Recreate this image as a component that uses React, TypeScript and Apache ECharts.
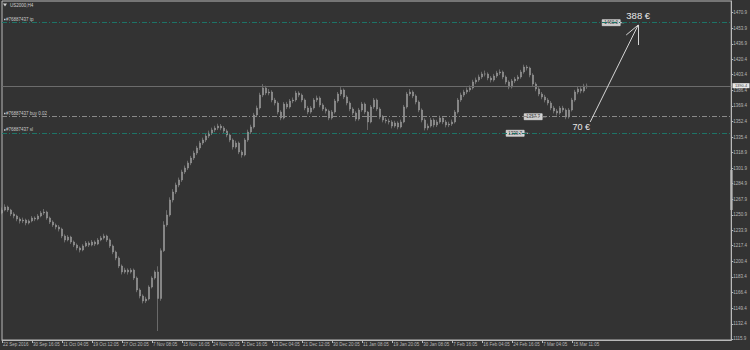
import React, { useEffect, useRef } from "react";
import * as echarts from "echarts";

const chartTitle = "US2000,H4";

const dateLabels = [
  "22 Sep 2016", "30 Sep 16:05", "11 Oct 04:05", "19 Oct 12:05", "27 Oct 20:05",
  "7 Nov 08:05", "15 Nov 16:05", "24 Nov 00:05", "2 Dec 16:05", "13 Dec 04:05",
  "21 Dec 12:05", "30 Dec 20:05", "11 Jan 08:05", "19 Jan 20:05", "30 Jan 08:05",
  "7 Feb 16:05", "16 Feb 04:05", "24 Feb 16:05", "7 Mar 04:05", "15 Mar 11:05",
];

const priceTicks = [
  1470.9, 1453.9, 1436.9, 1420.4, 1403.4, 1386.4, 1369.4, 1352.4, 1335.4, 1318.9, 1301.9,
  1284.9, 1267.9, 1250.9, 1233.9, 1217.4, 1200.4, 1183.4, 1166.4, 1149.4, 1132.4, 1115.9,
];

// [open, close, low, high]
const bars: number[][] = [
  [1253.0, 1256.2, 1251.5, 1259.0], [1256.2, 1259.5, 1254.8, 1262.4], [1259.5, 1256.2, 1254.1, 1261.0],
  [1256.2, 1251.9, 1249.6, 1257.5], [1251.9, 1249.7, 1247.2, 1253.8], [1249.7, 1246.4, 1244.0, 1251.1],
  [1246.4, 1244.3, 1241.5, 1248.2], [1244.3, 1245.3, 1242.0, 1247.9], [1245.3, 1242.1, 1239.6, 1246.8],
  [1242.1, 1244.3, 1240.5, 1246.0], [1244.3, 1247.5, 1242.8, 1249.6], [1247.5, 1246.4, 1244.1, 1249.3],
  [1246.4, 1249.7, 1245.0, 1251.8], [1249.7, 1253.0, 1248.3, 1255.2], [1253.0, 1254.0, 1250.9, 1257.3],
  [1254.0, 1247.5, 1245.6, 1255.4], [1247.5, 1243.2, 1241.0, 1249.1], [1243.2, 1239.9, 1237.8, 1245.0],
  [1239.9, 1237.7, 1235.2, 1241.6], [1237.7, 1235.5, 1232.9, 1239.8], [1235.5, 1227.9, 1225.6, 1237.0],
  [1227.9, 1223.6, 1221.0, 1229.7], [1223.6, 1226.8, 1222.1, 1228.9], [1226.8, 1221.4, 1219.3, 1228.2],
  [1221.4, 1218.1, 1215.9, 1223.0], [1218.1, 1214.9, 1212.4, 1219.8], [1214.9, 1212.7, 1210.1, 1216.6],
  [1212.7, 1217.1, 1211.3, 1219.0], [1217.1, 1220.3, 1215.8, 1222.5], [1220.3, 1218.1, 1216.0, 1222.2],
  [1218.1, 1221.4, 1216.7, 1223.6], [1221.4, 1219.2, 1217.0, 1223.1], [1219.2, 1223.6, 1218.0, 1225.7],
  [1223.6, 1225.8, 1222.2, 1228.0], [1225.8, 1227.9, 1224.1, 1230.4], [1227.9, 1223.6, 1221.5, 1229.3],
  [1223.6, 1217.1, 1215.0, 1225.2], [1217.1, 1210.5, 1208.2, 1218.7], [1210.5, 1204.0, 1201.6, 1212.0],
  [1204.0, 1195.3, 1193.0, 1205.8], [1195.3, 1188.8, 1186.1, 1197.0], [1188.8, 1190.9, 1186.9, 1193.4],
  [1190.9, 1188.8, 1186.0, 1192.7], [1188.8, 1190.9, 1187.1, 1193.0], [1190.9, 1182.2, 1180.0, 1192.5],
  [1182.2, 1169.2, 1166.8, 1183.9], [1169.2, 1162.7, 1160.1, 1171.0], [1162.7, 1157.2, 1154.6, 1164.5],
  [1157.2, 1159.4, 1155.0, 1161.8], [1159.4, 1172.4, 1157.8, 1174.3], [1172.4, 1182.2, 1170.9, 1184.1],
  [1182.2, 1188.8, 1180.5, 1190.6], [1188.8, 1160.0, 1124.6, 1195.0], [1160.0, 1212.0, 1157.5, 1214.5],
  [1212.0, 1240.0, 1210.5, 1244.0], [1240.0, 1250.8, 1238.0, 1256.0], [1250.8, 1267.1, 1249.0, 1270.0],
  [1267.1, 1275.8, 1264.5, 1278.9], [1275.8, 1283.4, 1273.6, 1286.0], [1283.4, 1288.9, 1281.0, 1291.5],
  [1288.9, 1297.6, 1286.8, 1300.0], [1297.6, 1301.9, 1295.4, 1304.6], [1301.9, 1307.4, 1299.8, 1309.8],
  [1307.4, 1312.8, 1305.0, 1315.1], [1312.8, 1318.2, 1310.6, 1320.7], [1318.2, 1323.7, 1316.0, 1326.0],
  [1323.7, 1329.1, 1321.4, 1331.5], [1329.1, 1332.4, 1327.0, 1334.9], [1332.4, 1336.7, 1330.1, 1339.0],
  [1336.7, 1340.0, 1334.5, 1342.6], [1340.0, 1343.3, 1337.8, 1345.8], [1343.3, 1345.4, 1341.0, 1347.9],
  [1345.4, 1347.6, 1343.2, 1350.1], [1347.6, 1345.4, 1343.0, 1349.8], [1345.4, 1342.2, 1339.9, 1347.5],
  [1342.2, 1337.8, 1335.4, 1344.0], [1337.8, 1332.4, 1330.0, 1339.6], [1332.4, 1324.8, 1322.0, 1334.1],
  [1324.8, 1329.1, 1323.0, 1331.6], [1329.1, 1319.3, 1317.0, 1330.8], [1319.3, 1316.1, 1313.2, 1321.4],
  [1316.1, 1332.4, 1314.6, 1334.5], [1332.4, 1341.1, 1330.3, 1343.6], [1341.1, 1346.5, 1338.9, 1349.0],
  [1346.5, 1359.6, 1344.8, 1361.9], [1359.6, 1367.2, 1357.3, 1369.8], [1367.2, 1381.3, 1365.5, 1383.8],
  [1381.3, 1389.0, 1379.0, 1393.2], [1389.0, 1383.5, 1381.2, 1391.4], [1383.5, 1384.6, 1381.0, 1387.9],
  [1384.6, 1375.9, 1373.4, 1386.5], [1375.9, 1372.6, 1370.0, 1378.2], [1372.6, 1362.8, 1360.3, 1374.4],
  [1362.8, 1356.3, 1353.9, 1364.7], [1356.3, 1371.5, 1354.8, 1373.6], [1371.5, 1368.3, 1366.0, 1373.9],
  [1368.3, 1374.8, 1366.5, 1377.0], [1374.8, 1375.9, 1372.4, 1378.6], [1375.9, 1383.5, 1374.0, 1385.9],
  [1383.5, 1381.3, 1378.9, 1385.4], [1381.3, 1375.9, 1373.5, 1383.0], [1375.9, 1367.2, 1364.8, 1377.6],
  [1367.2, 1362.8, 1360.4, 1369.5], [1362.8, 1367.2, 1361.0, 1369.3], [1367.2, 1375.9, 1365.4, 1378.0],
  [1375.9, 1378.1, 1373.6, 1380.7], [1378.1, 1370.5, 1368.0, 1379.9], [1370.5, 1366.1, 1363.8, 1372.4],
  [1366.1, 1363.9, 1361.2, 1368.0], [1363.9, 1356.3, 1353.9, 1365.5], [1356.3, 1362.8, 1354.6, 1365.0],
  [1362.8, 1374.8, 1361.0, 1377.1], [1374.8, 1382.4, 1372.9, 1384.6], [1382.4, 1386.8, 1380.2, 1389.9],
  [1386.8, 1379.2, 1376.9, 1388.4], [1379.2, 1372.6, 1370.1, 1381.0], [1372.6, 1366.1, 1363.7, 1374.5],
  [1366.1, 1361.8, 1359.4, 1368.0], [1361.8, 1355.2, 1352.8, 1363.6], [1355.2, 1365.0, 1353.4, 1367.3],
  [1365.0, 1371.5, 1363.0, 1373.8], [1371.5, 1362.8, 1360.5, 1373.2], [1362.8, 1352.0, 1343.3, 1364.0],
  [1352.0, 1368.3, 1350.5, 1370.4], [1368.3, 1375.9, 1366.2, 1378.1], [1375.9, 1366.1, 1363.8, 1377.5],
  [1366.1, 1357.4, 1355.0, 1368.0], [1357.4, 1354.1, 1351.6, 1359.6], [1354.1, 1353.1, 1350.5, 1356.4],
  [1353.1, 1352.0, 1349.3, 1355.6], [1352.0, 1347.6, 1345.0, 1354.0], [1347.6, 1350.9, 1345.8, 1353.3],
  [1350.9, 1346.5, 1344.0, 1352.7], [1346.5, 1352.0, 1345.0, 1354.5], [1352.0, 1368.3, 1350.6, 1370.5],
  [1368.3, 1382.4, 1366.5, 1384.7], [1382.4, 1384.6, 1380.2, 1387.8], [1384.6, 1380.3, 1377.9, 1386.4],
  [1380.3, 1373.7, 1371.2, 1382.0], [1373.7, 1365.0, 1362.6, 1375.5], [1365.0, 1354.1, 1351.6, 1366.8],
  [1354.1, 1345.4, 1342.8, 1356.0], [1345.4, 1347.6, 1343.0, 1350.2], [1347.6, 1354.1, 1345.9, 1356.5],
  [1354.1, 1348.7, 1346.2, 1356.0], [1348.7, 1352.0, 1346.5, 1354.4], [1352.0, 1356.3, 1350.1, 1358.8],
  [1356.3, 1352.0, 1349.6, 1358.0], [1352.0, 1348.7, 1346.1, 1354.2], [1348.7, 1349.8, 1346.4, 1352.3],
  [1349.8, 1352.0, 1347.7, 1354.6], [1352.0, 1362.8, 1350.3, 1365.0], [1362.8, 1375.9, 1361.0, 1378.1],
  [1375.9, 1381.3, 1373.8, 1383.9], [1381.3, 1384.6, 1379.1, 1387.0], [1384.6, 1386.8, 1382.3, 1389.4],
  [1386.8, 1389.0, 1384.5, 1391.7], [1389.0, 1395.5, 1387.2, 1397.9], [1395.5, 1397.7, 1393.1, 1400.3],
  [1397.7, 1400.9, 1395.6, 1403.5], [1400.9, 1404.2, 1398.8, 1406.6], [1404.2, 1404.2, 1401.5, 1407.9],
  [1404.2, 1399.8, 1397.4, 1406.0], [1399.8, 1397.7, 1395.0, 1401.9], [1397.7, 1402.0, 1395.9, 1404.3],
  [1402.0, 1405.3, 1400.0, 1407.6], [1405.3, 1406.4, 1403.0, 1409.2], [1406.4, 1400.9, 1398.5, 1408.0],
  [1400.9, 1395.5, 1393.0, 1402.6], [1395.5, 1390.0, 1387.6, 1397.3], [1390.0, 1396.6, 1388.4, 1398.8],
  [1396.6, 1398.7, 1394.3, 1401.0], [1398.7, 1400.9, 1396.6, 1403.2], [1400.9, 1406.4, 1399.0, 1408.7],
  [1406.4, 1411.8, 1404.5, 1414.3], [1411.8, 1410.7, 1408.0, 1413.9], [1410.7, 1403.1, 1400.6, 1412.2],
  [1403.1, 1393.3, 1390.9, 1405.0], [1393.3, 1387.9, 1385.4, 1395.2], [1387.9, 1382.4, 1380.0, 1389.8],
  [1382.4, 1379.2, 1376.7, 1384.6], [1379.2, 1375.9, 1373.3, 1381.5], [1375.9, 1372.6, 1370.1, 1378.0],
  [1372.6, 1367.2, 1364.8, 1374.8], [1367.2, 1363.9, 1361.3, 1369.5], [1363.9, 1361.8, 1359.0, 1366.2],
  [1361.8, 1367.2, 1359.9, 1369.4], [1367.2, 1365.0, 1362.6, 1369.6], [1365.0, 1357.4, 1355.0, 1366.8],
  [1357.4, 1365.0, 1355.6, 1367.1], [1365.0, 1375.9, 1363.4, 1378.2], [1375.9, 1384.6, 1374.0, 1386.9],
  [1384.6, 1387.9, 1382.2, 1390.6], [1387.9, 1385.7, 1383.1, 1389.9], [1385.7, 1391.1, 1383.9, 1393.5],
  [1391.1, 1390.4, 1388.0, 1393.8],
];

const currentPrice = 1390.4;

const levelNames = ["#76887437 tp", "#76887437 buy 0.02", "#76887437 sl"];
const levelPrices = [1460.0, 1357.7, 1339.7];

const profitTexts = ["388 €", "70 €"];
// arrow from [barIndex, price] to [barIndex, price]
const arrowFrom = [196, 1352.0];
const arrowTo = [212, 1457.5];
const arrowHeadA = [212, 1435.7];
const arrowHeadB = [208, 1446.6];

const CATEGORY_COUNT = 244;
const LABEL_EVERY = 10;
const Y_MIN = 1114.8;
const Y_MAX = 1483.6;

const BG = "#333333";
const BAR = "#a2a2a2";
const FRAME = "#b9b9b9";
const TEXT = "#b8b8b8";
const TEAL = "#1d7467";
const GRAYLINE = "#8a8a8a";
const FONT = "Liberation Sans, Arial, sans-serif";

export default function App() {
  const ref = useRef<HTMLDivElement | null>(null);

  useEffect(() => {
    document.body.style.margin = "0";
    document.body.style.background = BG;
    if (!ref.current) return;
    const chart = echarts.init(ref.current, undefined, { renderer: "svg" });

    const cats = Array.from({ length: CATEGORY_COUNT }, (_, i) => String(i));
    const showLabel = (i: number) => i % LABEL_EVERY === 0 && i / LABEL_EVERY < dateLabels.length;

    const levelStyles = [
      { color: TEAL, width: 1, type: [5, 2, 1, 2] },
      { color: GRAYLINE, width: 1, type: [5, 2, 1, 2] },
      { color: TEAL, width: 1, type: [5, 2, 1, 2] },
    ];

    chart.setOption({
      animation: false,
      backgroundColor: BG,
      grid: {
        left: 2, right: 18, top: 1, bottom: 10,
        show: true, borderColor: FRAME, borderWidth: 1, backgroundColor: "transparent",
      },
      xAxis: {
        type: "category",
        data: cats,
        boundaryGap: false,
        axisLine: { show: true, lineStyle: { color: FRAME, width: 1 } },
        axisTick: { show: true, interval: (i: number) => showLabel(i), length: 3, lineStyle: { color: FRAME } },
        axisLabel: {
          interval: (i: number) => showLabel(i),
          formatter: (_v: string, i: number) => (showLabel(i) ? dateLabels[i / LABEL_EVERY] : ""),
          align: "left",
          fontSize: 4.5,
          color: TEXT,
          margin: 2,
          padding: [0, 0, 0, 1],
          fontFamily: FONT,
        },
        splitLine: { show: false },
      },
      yAxis: {
        type: "value",
        position: "right",
        min: Y_MIN,
        max: Y_MAX,
        axisLine: { show: true, lineStyle: { color: FRAME, width: 1 } },
        axisTick: { show: true, customValues: priceTicks, length: 2, lineStyle: { color: FRAME } },
        axisLabel: {
          customValues: priceTicks,
          formatter: (v: number) => v.toFixed(1),
          fontSize: 4.5,
          color: TEXT,
          margin: 2,
          fontFamily: FONT,
        },
        splitLine: { show: false },
      },
      series: [
        {
          type: "candlestick",
          data: bars,
          barWidth: 2,
          clip: true,
          itemStyle: {
            color: BAR, color0: BAR, borderColor: BAR, borderColor0: BAR, borderWidth: 0.5,
          },
          markLine: {
            silent: true,
            symbol: ["none", "none"],
            label: { show: false },
            data: [
              ...levelPrices.map((p, k) => ({ yAxis: p, lineStyle: levelStyles[k] })),
              { yAxis: currentPrice, lineStyle: { color: "#6c6c6c", width: 1, type: "solid" } },
              [
                { coord: arrowFrom, lineStyle: { color: "#d6d6d6", width: 1, type: "solid" } },
                { coord: arrowTo },
              ],
              [
                { coord: arrowTo, lineStyle: { color: "#d6d6d6", width: 1, type: "solid" } },
                { coord: arrowHeadA },
              ],
              [
                { coord: arrowTo, lineStyle: { color: "#d6d6d6", width: 1, type: "solid" } },
                { coord: arrowHeadB },
              ],
            ],
          },
        },
      ],
    });

    const toPx = (c: number, p: number) =>
      chart.convertToPixel({ xAxisIndex: 0, yAxisIndex: 0 }, [c, p]) as number[];

    const boxEnds = [206, 180, 174];
    const graphics: any[] = [];

    // title
    graphics.push({
      type: "polygon",
      shape: { points: [[3, 3.5], [7, 3.5], [5, 6.5]] },
      style: { fill: "#cfcfcf" },
    });
    graphics.push({
      type: "text", x: 10, y: 5,
      style: { text: chartTitle, fill: "#cfcfcf", fontSize: 4.5, fontFamily: FONT, verticalAlign: "middle" },
    });

    levelPrices.forEach((p, k) => {
      const [, ly] = toPx(0, p);
      graphics.push({
        type: "rect", shape: { x: 4, y: ly - 4, width: 1.5, height: 1.5 }, style: { fill: "#cfcfcf" },
      });
      graphics.push({
        type: "text", x: 6, y: ly - 1,
        style: { text: levelNames[k], fill: "#c8c8c8", fontSize: 4.5, fontFamily: FONT, verticalAlign: "bottom" },
      });
      const [bx] = toPx(boxEnds[k], p);
      graphics.push({
        type: "line",
        shape: { x1: bx, y1: ly, x2: bx + 4, y2: ly },
        style: { stroke: "#c8c8c8", lineWidth: 1 },
      });
      graphics.push({
        type: "rect",
        shape: { x: bx - 18, y: ly - 3, width: 18, height: 6 },
        style: { fill: "#cdcdcd", stroke: "#f0f0f0", lineWidth: 0.6 },
      });
      graphics.push({
        type: "text", x: bx - 9, y: ly,
        style: {
          text: p.toFixed(1), fill: "#3a3a3a", fontSize: 4.5, fontFamily: FONT,
          align: "center", verticalAlign: "middle",
        },
      });
    });

    // current price box on the right axis
    const [, cy] = toPx(0, currentPrice);
    graphics.push({
      type: "rect",
      shape: { x: 732.5, y: cy - 3.5, width: 17, height: 5 },
      style: { fill: "#e8e8e8" },
    });
    graphics.push({
      type: "text", x: 741, y: cy - 1,
      style: {
        text: currentPrice.toFixed(1), fill: "#444", fontSize: 4, fontFamily: FONT,
        align: "center", verticalAlign: "middle",
      },
    });

    // scroll marker on right border
    graphics.push({
      type: "rect", shape: { x: 730.5, y: 170, width: 2, height: 40 }, style: { fill: "#d8d8d8" },
    });

    // profit texts
    const [tx, ty] = toPx(arrowTo[0], arrowTo[1]);
    graphics.push({
      type: "text", x: tx, y: ty - 9,
      style: {
        text: profitTexts[0], fill: "#e8e8e8", fontSize: 9.5, fontFamily: FONT,
        align: "center", verticalAlign: "middle",
      },
    });
    const [fx, fy] = toPx(arrowFrom[0], arrowFrom[1]);
    graphics.push({
      type: "text", x: fx - 9, y: fy + 5,
      style: {
        text: profitTexts[1], fill: "#e8e8e8", fontSize: 9, fontFamily: FONT,
        align: "center", verticalAlign: "middle",
      },
    });

    chart.setOption({ graphic: graphics });

    return () => chart.dispose();
  }, []);

  return (
    <div
      ref={ref}
      style={{ position: "fixed", left: 0, top: 0, width: 750, height: 350, background: BG }}
    />
  );
}
